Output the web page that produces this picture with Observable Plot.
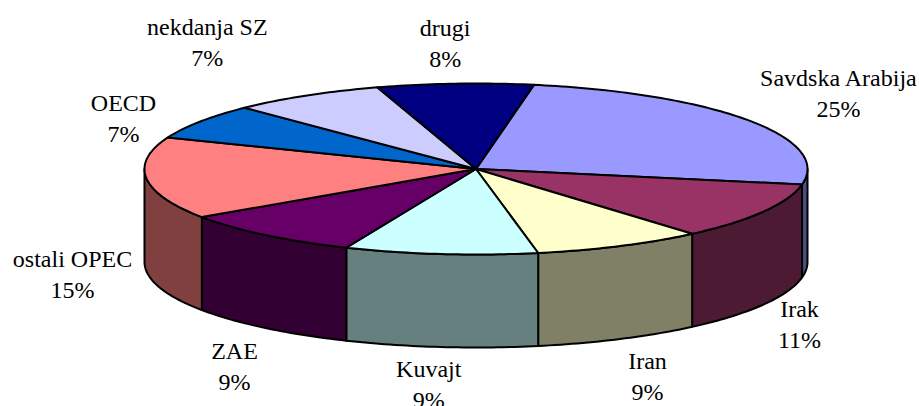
<!DOCTYPE html>
<html>
<head>
<meta charset="utf-8">
<style>html,body{margin:0;padding:0;background:#fff;overflow:hidden}</style>
<script src="https://cdn.jsdelivr.net/npm/d3@7"></script>
<script src="https://cdn.jsdelivr.net/npm/@observablehq/plot@0.6"></script>
</head>
<body>
<div id="chart"></div>
<script>
const names = ["Savdska Arabija","Irak","Iran","Kuvajt","ZAE","ostali OPEC","OECD","nekdanja SZ","drugi"];
const shares = [25.1,10.8,8.3,9.4,9.1,15.5,6.7,7.5,7.6];
const percentLabels = ["25%","11%","9%","9%","9%","15%","7%","7%","8%"];
const topColors = ["#9999FF","#993366","#FFFFCC","#CCFFFF","#660066","#FF8080","#0066CC","#CCCCFF","#000080"];
const sideColors = ["#4D4D80","#4D1A33","#808066","#668080","#330033","#804040","#003366","#666680","#000040"];

// layout of the tilted pie
const firstSliceAngle = 10.07;
const depth = 93 / 85.5;
const labelOffsets = [[90,-29],[36,111],[27.5,129],[-12,129],[-31,130],[-74,94],[-76.5,-5],[-99,-55],[-10,-42]];
const pxX = 331.5, pxY = 85.5;

const rad = d => d * Math.PI / 180;
const rim = (a, drop = 0) => ({x: Math.sin(rad(a)), y: -Math.cos(rad(a)) + drop});
const arc = (a0, a1) => {
  const n = Math.max(1, Math.ceil(Math.abs(a1 - a0)));
  return d3.range(n + 1).map(i => a0 + (a1 - a0) * i / n);
};

let cursor = firstSliceAngle;
const slices = names.map((name, i) => {
  const a0 = cursor, a1 = cursor + shares[i] * 3.6;
  cursor = a1;
  return {name, i, a0, a1, mid: (a0 + a1) / 2};
});

const tops = slices.flatMap(s => [
  {id: s.name, color: topColors[s.i], x: 0, y: 0},
  ...arc(s.a0, s.a1).map(a => ({id: s.name, color: topColors[s.i], ...rim(a)}))
]);

const sides = slices.flatMap(s => {
  const lo = Math.max(s.a0, 90), hi = Math.min(s.a1, 270);
  if (hi <= lo) return [];
  const angles = arc(lo, hi);
  return [
    ...angles.map(a => ({id: s.name, color: sideColors[s.i], ...rim(a)})),
    ...angles.slice().reverse().map(a => ({id: s.name, color: sideColors[s.i], ...rim(a, depth)}))
  ];
});

const labels = slices.map(s => {
  const p = rim(s.mid), [dx, dy] = labelOffsets[s.i];
  return {text: s.name + "\n" + percentLabels[s.i], x: p.x + dx / pxX, y: p.y + dy / pxY};
});

const polygon = data => Plot.line(data, {
  x: "x", y: "y", z: "id",
  fill: d => d.color,
  stroke: "#000", strokeWidth: 2,
  curve: "linear-closed", strokeLinejoin: "round"
});

const chart = Plot.plot({
  width: 919, height: 406,
  margin: 0,
  style: {background: "#fff", overflow: "hidden"},
  x: {domain: [-1, 1], range: [144, 807], axis: null},
  y: {domain: [-1, 1], range: [83, 254], axis: null},
  color: {type: "identity"},
  marks: [
    polygon(sides),
    polygon(tops),
    Plot.text(labels, {
      x: "x", y: "y", text: "text",
      fontFamily: "Liberation Serif", fontSize: 24, lineHeight: 1.29,
      fill: "#000", textAnchor: "middle", lineAnchor: "middle"
    })
  ]
});
document.getElementById("chart").append(chart);
</script>
</body>
</html>
